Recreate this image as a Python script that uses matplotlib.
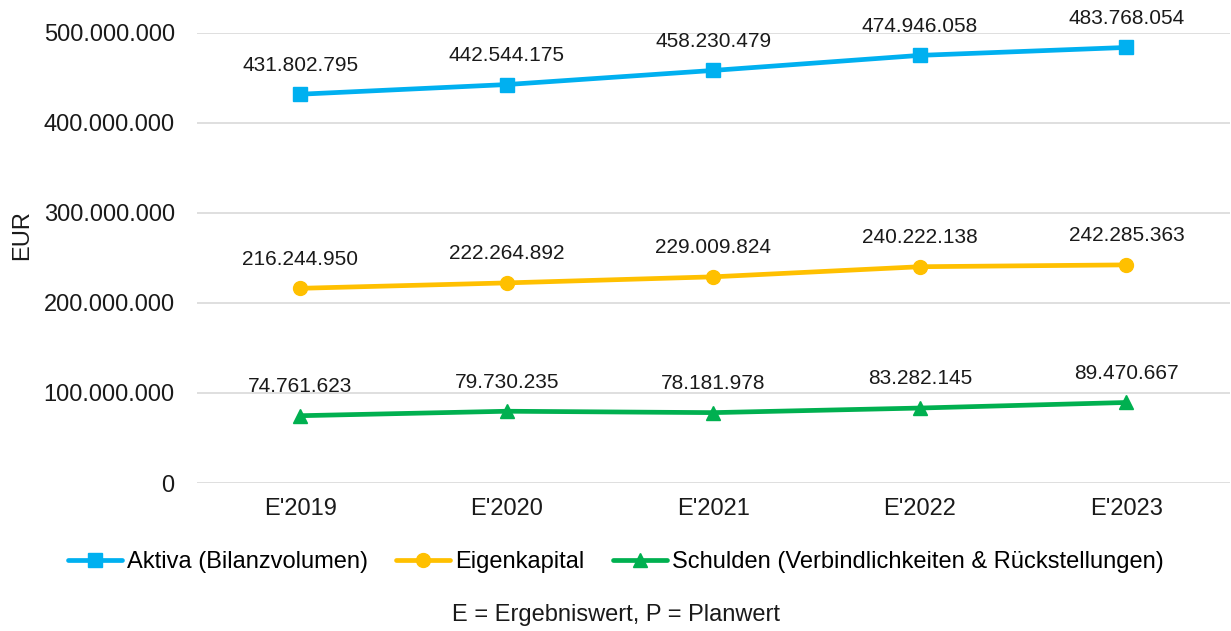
import matplotlib.pyplot as plt
from matplotlib.ticker import FuncFormatter

plt.rcParams['font.family'] = ['Liberation Sans', 'DejaVu Sans']

# Jahre und Werte (EUR)
jahre = ["E'2019", "E'2020", "E'2021", "E'2022", "E'2023"]
aktiva = [431802795, 442544175, 458230479, 474946058, 483768054]
eigenkapital = [216244950, 222264892, 229009824, 240222138, 242285363]
schulden = [74761623, 79730235, 78181978, 83282145, 89470667]

serien = [
    ("Aktiva (Bilanzvolumen)", aktiva, "#00B0F0", "s"),
    ("Eigenkapital", eigenkapital, "#FFC000", "o"),
    ("Schulden (Verbindlichkeiten & Rückstellungen)", schulden, "#00B050", "^"),
]

def de_format(v):
    return f"{v:,.0f}".replace(",", ".")

fig = plt.figure(figsize=(12.31, 6.31), dpi=100)
ax = fig.add_axes([0.16, 0.2345, 0.839, 0.7135])

x = list(range(len(jahre)))
for name, werte, farbe, marker in serien:
    ax.plot(x, werte, color=farbe, lw=3.4, marker=marker, markersize=10,
            label=name, solid_capstyle='round')
    for xi, v in zip(x, werte):
        ax.annotate(de_format(v), (xi, v), xytext=(0, 21), textcoords='offset points',
                    ha='center', va='center', fontsize=15, color='#1a1a1a')

ax.set_xlim(-0.5, 4.5)
ax.set_ylim(0, 500000000)
ax.set_yticks(range(0, 500000001, 100000000))
ax.yaxis.set_major_formatter(FuncFormatter(lambda v, p: de_format(v)))
ax.set_xticks(x)
ax.set_xticklabels(jahre)
ax.tick_params(axis='both', length=0, labelsize=17, labelcolor='#1a1a1a')
ax.tick_params(axis='x', pad=11)
ax.tick_params(axis='y', pad=16)
ax.grid(axis='y', color='#d9d9d9', lw=1.2)
ax.set_axisbelow(True)
for s in ax.spines.values():
    s.set_visible(False)

fig.text(22 / 1231, 1 - 235 / 631, "EUR", rotation=90, ha='center', va='center',
         fontsize=17, color='#1a1a1a')

fig.legend(loc='center', bbox_to_anchor=(0.5, 1 - 562 / 631), ncol=3, frameon=False,
           fontsize=17, handlelength=2.3, handletextpad=0.2, columnspacing=1.2)

fig.text(0.5, 1 - 615 / 631, "E = Ergebniswert, P = Planwert", ha='center', va='center',
         fontsize=17, color='#1a1a1a')

fig.savefig("out.png", dpi=100)
